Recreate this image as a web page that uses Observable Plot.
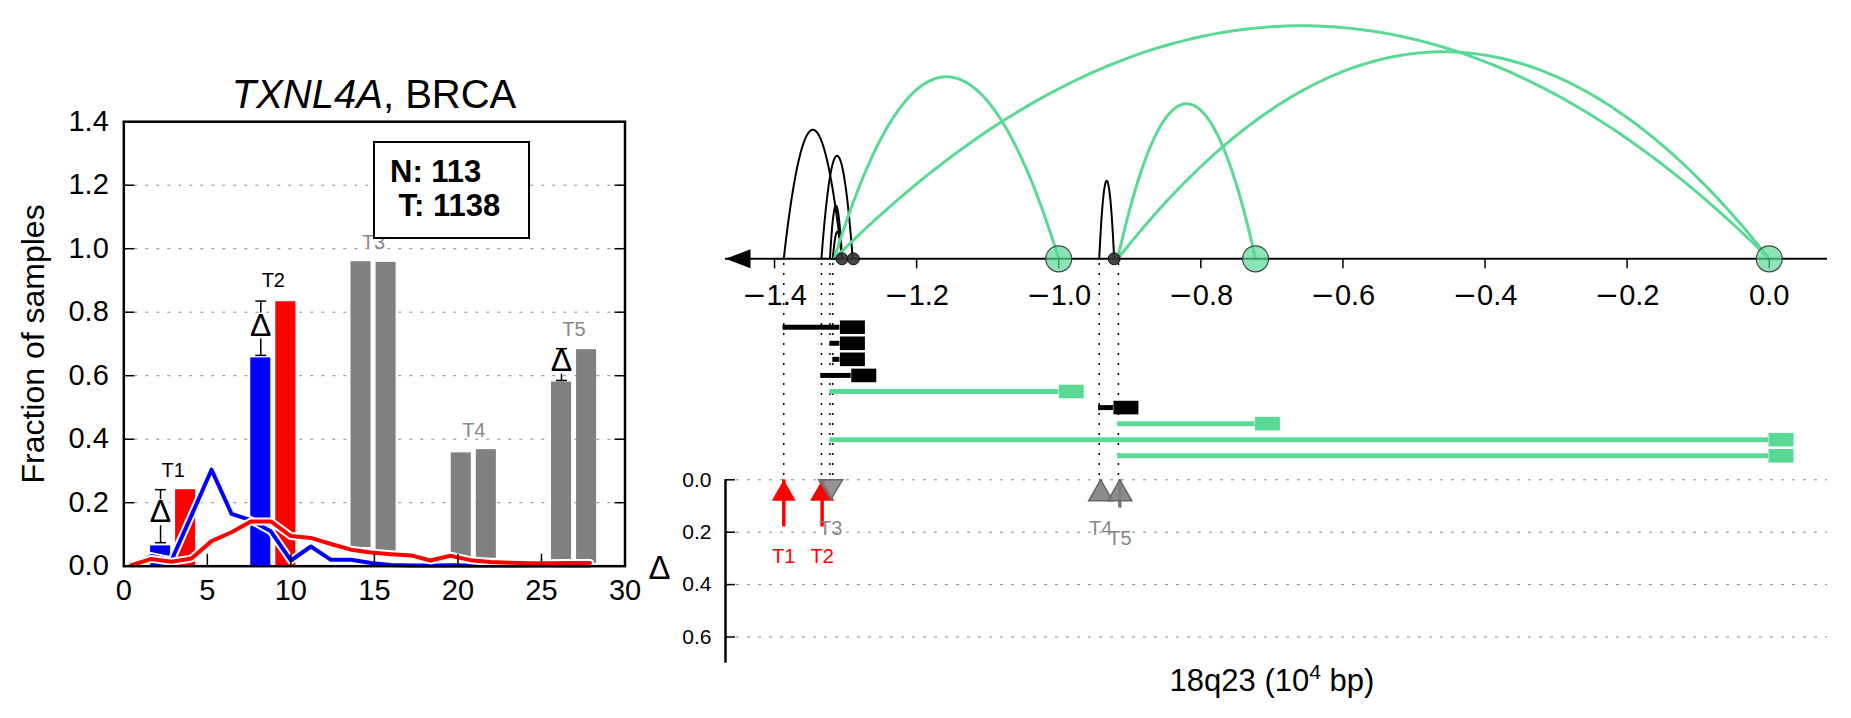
<!DOCTYPE html>
<html>
<head>
<meta charset="utf-8">
<script src="https://cdn.jsdelivr.net/npm/d3@7"></script>
<script src="https://cdn.jsdelivr.net/npm/@observablehq/plot@0.6"></script>
<style>
html,body{margin:0;padding:0;background:#fff;}
#root{position:relative;width:1851px;height:718px;overflow:hidden;font-family:"Liberation Sans",Arial,Helvetica,sans-serif;}
.ovl{position:absolute;z-index:10;white-space:nowrap;color:#000;}
#title{left:119px;width:510px;top:74px;text-align:center;font-size:40px;line-height:40px;}
#legend{left:373px;top:141px;width:157px;height:98px;box-sizing:border-box;border:2px solid #000;background:#fff;font-weight:bold;font-size:31px;line-height:34px;padding:12px 0 0 15px;}
#xlabel{left:1072px;width:400px;top:665px;text-align:center;font-size:31px;line-height:31px;}
#xlabel sup{font-size:0.68em;line-height:0;vertical-align:0.55em;}
</style>
</head>
<body>
<div id="root">
</div>
<script>
// ---------------- Left panel data ----------------
const lineX      = [0.45,1.65,2.85,4.05,5.25,6.45,7.6,8.8,10.0,11.2,12.4,13.6,14.8,16.0,17.2,18.35,19.55,20.75,21.95,23.15,24.35,25.55,26.75,27.9];
const normalFrac = [0.003,0.032,0.018,0.16,0.304,0.165,0.145,0.11,0.018,0.062,0.02,0.02,0.01,0.004,0.002,0.002,0.003,0.002,0.002,0.002,0.002,0.002,0.002,0.002];
const tumorFrac  = [0.003,0.023,0.014,0.024,0.079,0.107,0.141,0.141,0.095,0.089,0.07,0.052,0.043,0.038,0.034,0.018,0.033,0.019,0.013,0.011,0.009,0.009,0.01,0.01];

const barStart = [1.6,3.1,7.6,9.1,13.6,15.1,19.6,21.1,25.6,27.1];
const barEnd   = [2.8,4.3,8.8,10.3,14.8,16.3,20.8,22.3,26.8,28.3];
const barBase  = [0,0,0,0,0.059,0.047,0.028,0.025,0.02,0.009];
const barTop   = [0.064,0.241,0.656,0.833,0.959,0.957,0.357,0.367,0.58,0.682];
const barFill  = ["#0000ff","#ff0000","#0000ff","#ff0000","#808080","#808080","#808080","#808080","#808080","#808080"];

const peakLabels     = ["T1","T2","T3","T4","T5"];
const peakLabelX     = [2.95,8.95,14.95,20.95,26.95];
const peakLabelY     = [0.301,0.898,1.02,0.427,0.745];
const peakLabelColor = ["#000","#000","#888","#888","#888"];

const deltaX    = [2.2,8.2,26.2];
const deltaLow  = [0.074,0.664,0.585];
const deltaHigh = [0.241,0.835,0.685];
const deltaMid  = [0.17,0.758,0.647];

const fracTicks = [0,0.2,0.4,0.6,0.8,1.0,1.2,1.4];
const fracGrid  = [0.2,0.4,0.6,0.8,1.0,1.2];
const cnTicks   = [0,5,10,15,20,25,30];

// ---------------- Right panel data ----------------
const axisMin = -1.469, axisMax = 0.082;
const posTicks = [-1.4,-1.2,-1.0,-0.8,-0.6,-0.4,-0.2,0.0];

const arcStart  = [-1.387,-1.322,-1.318,-1.334,-1.316,-0.943,-0.917,-1.316,-0.917];
const arcEnd    = [-1.305,-1.305,-1.305,-1.290,-1.0,-0.922,-0.723,0.0,0.0];
const arcHeight = [129,53,27,103,182,78,155,233,207];
const arcKind   = ["local","local","local","local","sv","local","sv","sv","sv"];

const brkGreen = [-1.0,-0.723,0.0];
const brkDark  = [-1.305,-1.289,-0.922];

const svRow   = [1,2,3,4,5,6,7,8,9];
const svStart = [-1.388,-1.322,-1.318,-1.335,-1.322,-0.944,-0.917,-1.322,-0.917];
const svEnd   = [-1.308,-1.308,-1.308,-1.292,-1.0,-0.923,-0.724,-0.001,-0.001];
const svKind  = ["local","local","local","local","sv","local","sv","sv","sv"];

const guideX = [-1.387,-1.334,-1.322,-1.318,-0.943,-0.916];

const tNames  = ["T1","T2","T3","T4","T5"];
const tPos    = [-1.387,-1.333,-1.321,-0.941,-0.914];
const tDelta  = [0.18,0.18,-0.002,0.01,0.108];
const tDir    = ["up","up","down","up","up"];
const tSig    = [true,true,false,false,false];
const tLabelY = [0.295,0.295,0.187,0.186,0.225];
const deltaTicks = [0,0.2,0.4,0.6];

// ---------------- styles ----------------
const GREEN = "#5ad994";
const FONT = '"Liberation Sans", Arial, Helvetica, sans-serif';
const kindColor = k => k === "sv" ? GREEN : "#000";
const svgStyle = {background:"transparent", fontFamily: FONT, position:"absolute", left:"0px", top:"0px", overflow:"visible", maxWidth:"none"};
const sym = f => ({draw: f});
const leftArrow = sym(c => {c.moveTo(0,0); c.lineTo(25,-9.5); c.lineTo(25,9.5); c.closePath();});
const svBox     = sym(c => {c.rect(0,-6.8,25,13.6);});
const triUp     = sym(c => {c.moveTo(0,0); c.lineTo(12,21); c.lineTo(-12,21); c.closePath();});
const triDown   = sym(c => {c.moveTo(-12,0); c.lineTo(12,0); c.lineTo(0,20); c.closePath();});
const capBar    = sym(c => {c.moveTo(-5.5,0); c.lineTo(5.5,0);});
const posFmt = d => (d < 0 ? "\u2212" : "") + Math.abs(d).toFixed(1);

const root = document.getElementById("root");
const idx = a => a.map((_, i) => i);

// ---------------- Left panel ----------------
const L = Plot.plot({
  width: 640, height: 620,
  marginLeft: 123.3, marginRight: 15.5, marginTop: 121.2, marginBottom: 54.3,
  x: {domain: [0, 30], axis: null},
  y: {domain: [0, 1.4], axis: null},
  style: svgStyle,
  marks: [
    Plot.ruleY(fracGrid, {y: d => d, stroke: "#888", strokeWidth: 1, strokeDasharray: "3,8"}),
    Plot.rect(idx(barStart), {x1: i => barStart[i], x2: i => barEnd[i], y1: i => barBase[i], y2: i => barTop[i], fill: i => barFill[i]}),
    Plot.line(idx(lineX), {x: i => lineX[i], y: i => normalFrac[i], stroke: "white", strokeWidth: 8}),
    Plot.line(idx(lineX), {x: i => lineX[i], y: i => normalFrac[i], stroke: "#0000ff", strokeWidth: 4}),
    Plot.line(idx(lineX), {x: i => lineX[i], y: i => tumorFrac[i], stroke: "white", strokeWidth: 8}),
    Plot.line(idx(lineX), {x: i => lineX[i], y: i => tumorFrac[i], stroke: "#ff0000", strokeWidth: 4}),
    Plot.ruleX(idx(deltaX), {x: i => deltaX[i], y1: i => deltaLow[i], y2: i => deltaHigh[i], stroke: "#000", strokeWidth: 1.5}),
    Plot.dot(idx(deltaX), {x: i => deltaX[i], y: i => deltaMid[i], r: 13, fill: "white", stroke: "none"}),
    Plot.text(idx(deltaX), {x: i => deltaX[i], y: i => deltaMid[i], text: () => "\u0394", fontSize: 32, fill: "#000"}),
    Plot.dot(idx(deltaX), {x: i => deltaX[i], y: i => deltaLow[i], symbol: capBar, fill: "none", stroke: "#000", strokeWidth: 1.5}),
    Plot.dot(idx(deltaX), {x: i => deltaX[i], y: i => deltaHigh[i], symbol: capBar, fill: "none", stroke: "#000", strokeWidth: 1.5}),
    Plot.text(idx(peakLabels), {x: i => peakLabelX[i], y: i => peakLabelY[i], text: i => peakLabels[i], fill: i => peakLabelColor[i], fontSize: 20}),
    Plot.frame({stroke: "#000", strokeWidth: 2.5}),
    Plot.axisY({anchor: "left", ticks: fracTicks, tickSize: 0, tickPadding: 15, tickFormat: d => d.toFixed(1), fontSize: 29, label: null}),
    Plot.axisY({anchor: "left", ticks: fracGrid, tickSize: 11, dx: 11, tickFormat: () => "", strokeWidth: 1.5, label: null}),
    Plot.axisY({anchor: "right", ticks: fracGrid, tickSize: 11, dx: -11, tickFormat: () => "", strokeWidth: 1.5, label: null}),
    Plot.axisX({anchor: "bottom", ticks: cnTicks, tickSize: 0, tickPadding: 13, tickFormat: d => String(d), fontSize: 29, label: null}),
    Plot.axisX({anchor: "bottom", ticks: [5,10,15,20,25], tickSize: 12, dy: -12, tickFormat: () => "", strokeWidth: 1.5, label: null}),
    Plot.text(["Fraction of samples"], {frameAnchor: "left", textAnchor: "middle", text: d => d, rotate: -90, dx: -90, fontSize: 32, fill: "#000"})
  ]
});

// ---------------- Right panel: guides + SV tracks ----------------
const A2 = Plot.plot({
  width: 1851, height: 481,
  marginLeft: 725, marginRight: 24, marginTop: 263, marginBottom: 1,
  x: {domain: [axisMin, axisMax], axis: null},
  y: {domain: [1, 9], range: [326.7, 455.3], axis: null},
  style: svgStyle,
  marks: [
    Plot.ruleX(guideX, {x: d => d, stroke: "#000", strokeWidth: 1.5, strokeDasharray: "2,8"}),
    Plot.ruleY(idx(svRow), {x1: i => svStart[i], x2: i => svEnd[i], y: i => svRow[i], stroke: i => kindColor(svKind[i]), strokeWidth: 5}),
    Plot.dot(idx(svRow), {x: i => svEnd[i], y: i => svRow[i], symbol: svBox, fill: i => kindColor(svKind[i]), stroke: "none"})
  ]
});

// ---------------- Right panel: arcs + position axis ----------------
const arcPts = arcStart.flatMap((s, i) => d3.range(0, 121).map(k => {
  const t = k / 120;
  return {i, kind: arcKind[i], x: s + (arcEnd[i] - s) * t, y: 4 * arcHeight[i] * t * (1 - t)};
}));
const A1 = Plot.plot({
  width: 1851, height: 320,
  marginLeft: 725, marginRight: 24, marginTop: 18.3, marginBottom: 61.7,
  x: {domain: [axisMin, axisMax], axis: null},
  y: {domain: [0, 240], axis: null},
  style: svgStyle,
  marks: [
    Plot.line(arcPts.filter(d => d.kind === "local"), {x: "x", y: "y", z: "i", stroke: "#000", strokeWidth: 2}),
    Plot.line(arcPts.filter(d => d.kind === "sv"), {x: "x", y: "y", z: "i", stroke: GREEN, strokeWidth: 3}),
    Plot.ruleY([0], {y: d => d, stroke: "#000", strokeWidth: 2}),
    Plot.dot([axisMin], {x: d => d, y: () => 0, symbol: leftArrow, fill: "#000", stroke: "none"}),
    Plot.axisX({anchor: "bottom", ticks: posTicks, tickSize: 10, tickPadding: 16, tickFormat: posFmt, fontSize: 29, strokeWidth: 1.5, label: null}),
    Plot.dot(brkDark, {x: d => d, y: () => 0, r: 6, fill: "#333", fillOpacity: 0.9, stroke: "#111", strokeWidth: 1}),
    Plot.dot(brkGreen, {x: d => d, y: () => 0, r: 13, fill: GREEN, fillOpacity: 0.7, stroke: "#444", strokeWidth: 1.2})
  ]
});
// minus sign glyph as in the reference (wide DejaVu minus)
A1.querySelectorAll("text").forEach(t => {
  const s = t.textContent;
  if (s.startsWith("\u2212")) {
    t.textContent = "";
    const ns = "http://www.w3.org/2000/svg";
    const m = document.createElementNS(ns, "tspan");
    m.setAttribute("font-family", "DejaVu Sans");
    m.textContent = "\u2212";
    const r = document.createElementNS(ns, "tspan");
    r.textContent = s.slice(1);
    t.appendChild(m); t.appendChild(r);
  }
});

// ---------------- Right panel: delta track ----------------
const B = Plot.plot({
  width: 1851, height: 718,
  marginLeft: 725, marginRight: 24, marginTop: 479.3, marginBottom: 55.3,
  x: {domain: [axisMin, axisMax], axis: null},
  y: {domain: [0, 0.7], reverse: true, axis: null},
  style: svgStyle,
  marks: [
    Plot.ruleY(deltaTicks, {y: d => d, stroke: "#888", strokeWidth: 1, strokeDasharray: "3,8"}),
    Plot.ruleX([axisMin], {x: d => d, y1: () => 0, y2: () => 0.7, stroke: "#000", strokeWidth: 2.5}),
    Plot.axisY({anchor: "left", ticks: deltaTicks, tickSize: 0, tickPadding: 14, tickFormat: d => d.toFixed(1), fontSize: 21, label: null}),
    Plot.axisY({anchor: "left", ticks: deltaTicks, tickSize: 10, dx: 10, tickFormat: () => "", strokeWidth: 1.5, label: null}),
    Plot.text(["\u0394"], {frameAnchor: "left", textAnchor: "middle", text: d => d, dx: -66, dy: -3, fontSize: 33, fill: "#000"}),
    Plot.ruleX(idx(tNames), {filter: i => tDelta[i] > 0, x: i => tPos[i], y1: () => 0, y2: i => tDelta[i], stroke: i => tSig[i] ? "#ff0000" : "#777", strokeWidth: 3.5}),
    Plot.dot(idx(tNames), {filter: i => tSig[i] && tDir[i] === "up", x: i => tPos[i], y: () => 0, symbol: triUp, fill: "#ff0000", stroke: "none"}),
    Plot.dot(idx(tNames), {filter: i => !tSig[i] && tDir[i] === "up", x: i => tPos[i], y: () => 0, symbol: triUp, fill: "#808080", fillOpacity: 0.9, stroke: "#666", strokeWidth: 1.5}),
    Plot.dot(idx(tNames), {filter: i => !tSig[i] && tDir[i] === "down", x: i => tPos[i], y: () => 0, symbol: triDown, fill: "#808080", fillOpacity: 0.85, stroke: "#666", strokeWidth: 1.5}),
    Plot.text(idx(tNames), {x: i => tPos[i], y: i => tLabelY[i], text: i => tNames[i], fill: i => tSig[i] ? "#ff0000" : "#888", fontSize: 20})
  ]
});

for (const svg of [L, A2, A1, B]) root.appendChild(svg);

function overlay(id, html) {
  const d = document.createElement("div");
  d.id = id; d.className = "ovl"; d.innerHTML = html;
  root.appendChild(d);
}
overlay("title", "<i>TXNL4A</i>, BRCA");
overlay("legend", "N: 113<br>&nbsp;T: 1138");
overlay("xlabel", "18q23 (10<sup>4</sup> bp)");
</script>
</body>
</html>
